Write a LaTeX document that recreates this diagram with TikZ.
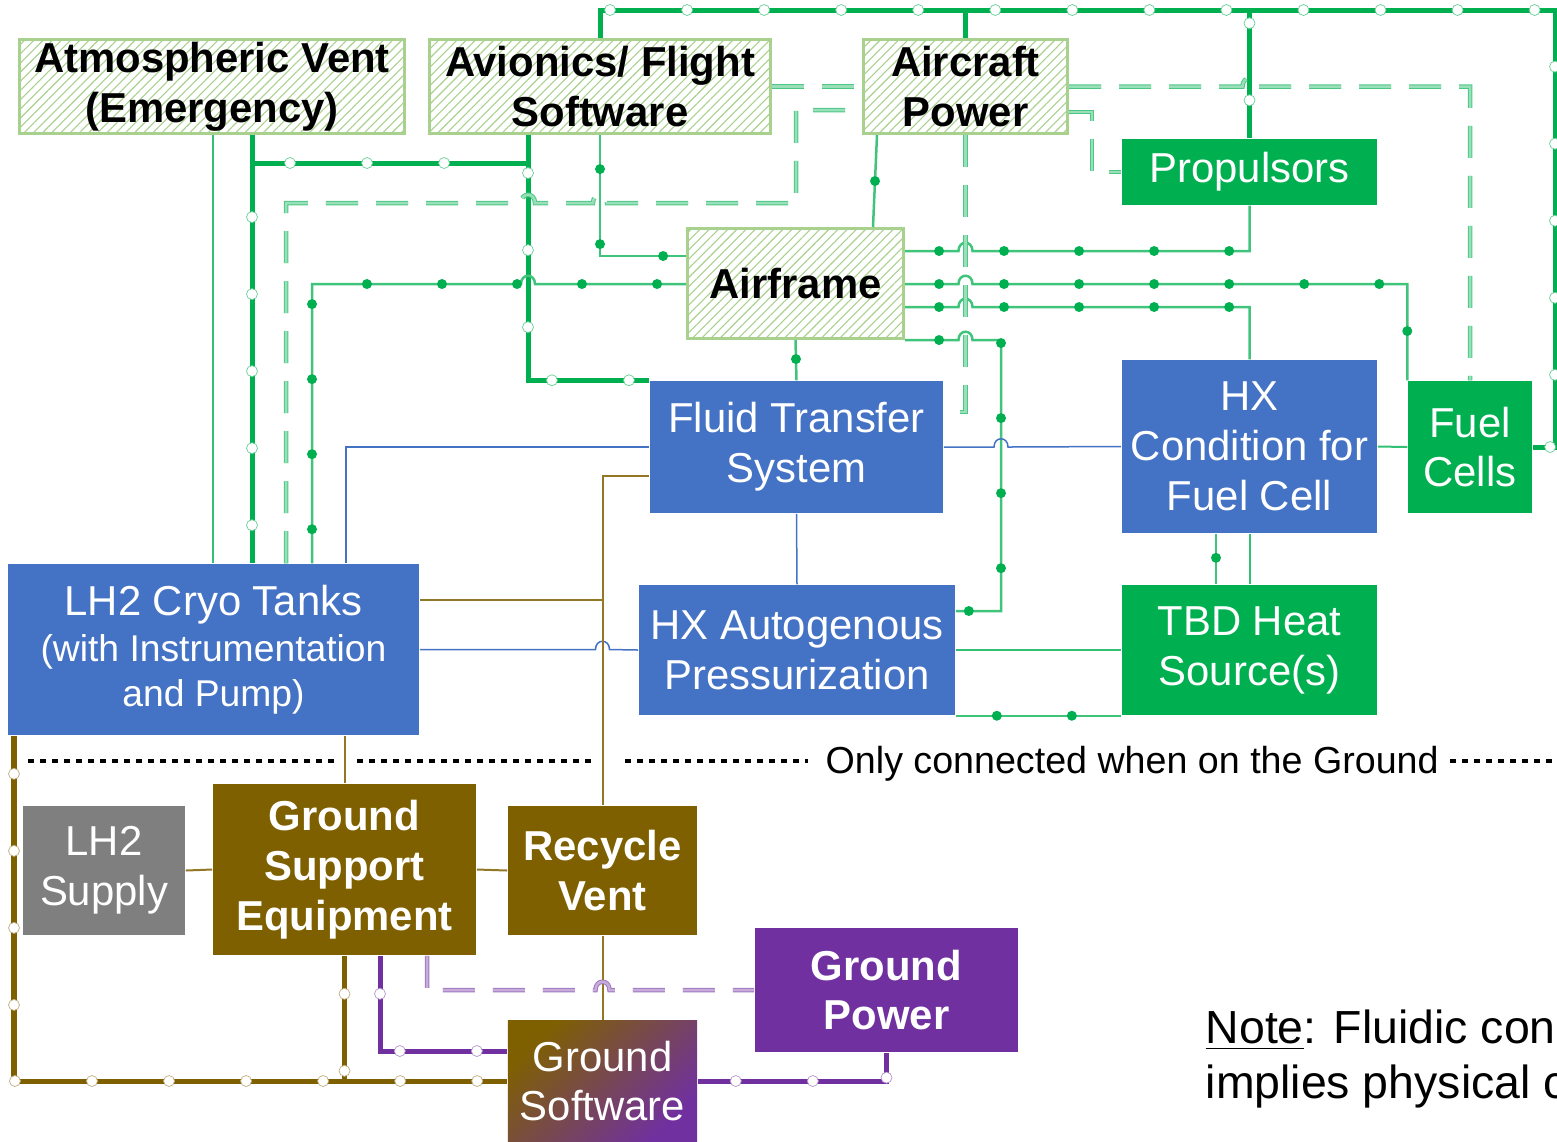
\documentclass[tikz,border=0pt]{standalone}
\usepackage{fontspec}
\setmainfont{Liberation Sans}
\usetikzlibrary{positioning,backgrounds,decorations.markings,patterns.meta}
\definecolor{cGreen}{RGB}{0,176,80}
\definecolor{cHatch}{RGB}{169,209,142}
\definecolor{cBlue}{RGB}{68,114,196}
\definecolor{cBrown}{RGB}{127,96,0}
\definecolor{cPurple}{RGB}{112,48,160}
\definecolor{cGray}{RGB}{127,127,127}
\newcommand{\boxfont}{\fontsize{11.9}{14.2}\selectfont}
\newcommand{\tankfont}{\fontsize{10.6}{12.6}\selectfont}
\newcommand{\lblfont}{\fontsize{10.7}{12.8}\selectfont}
\newcommand{\notefont}{\fontsize{13.2}{15.8}\selectfont}
% bump of a horizontal line over a vertical one at (x,y)
\newcommand{\hop}[2]{-- (#1-7,#2) .. controls +(0,-11) and +(0,-11) .. (#1+7,#2)}

\begin{document}
\begin{tikzpicture}[x=0.01cm, y=-0.01cm,
   every node/.style={inner sep=0pt, align=center},
   wh/.style 2 args={minimum width=#1*0.1mm, minimum height=#2*0.1mm},
   sys/.style={text=white, font=\boxfont},
   hatchbox/.style={draw=cHatch, line width=0.3mm, text=black, font=\boxfont\bfseries,
      preaction={fill=white}, pattern={Lines[angle=45,distance=0.65mm,line width=0.11mm]}, pattern color=cHatch},
   bluebox/.style={sys, fill=cBlue},
   greenbox/.style={sys, fill=cGreen},
   gsebox/.style={sys, fill=cBrown, font=\boxfont\bfseries},
   rings/.style={postaction={decorate, decoration={markings,
      mark=between positions 3.8mm and -1mm step 7.7mm with {\draw[fill=white, draw=#1, line width=0.2pt] (0,0) circle (0.55mm);}}}},
   dotmarks/.style={postaction={decorate, decoration={markings,
      mark=between positions #1 and -1.2mm step 7.5mm with {\fill[cGreen] (0,0) circle (0.5mm);}}}},
   pwr/.style={draw=cGreen, line width=0.5mm, rings=cGreen!60},
   dat/.style={draw=cGreen!75, line width=0.25mm, dotmarks=#1}, dat/.default=3.4mm,
   sig/.style={draw=cGreen!80, line width=0.2mm},
   ctl/.style={draw=cGreen!70, double=cGreen!40, double distance=0.25mm, line width=0.1mm, dash pattern=on 3.2mm off 1.8mm},
   flu/.style={draw=cBlue, line width=0.15mm},
   gsl/.style={draw=cBrown!85, line width=0.2mm},
   gpw/.style={draw=cBrown, line width=0.5mm, rings=cBrown!50},
   ppw/.style={draw=cPurple, line width=0.5mm, rings=cPurple!50},
   pct/.style={draw=cPurple!65, double=cPurple!40, double distance=0.25mm, line width=0.1mm, dash pattern=on 3.2mm off 1.8mm},
   gndsep/.style={draw=black, line width=0.45mm, dash pattern=on 0.6mm off 0.6mm}]
  \useasboundingbox (0,0) rectangle (1557,1141);
  \clip (0,0) rectangle (1557,1141);
  % aircraft side
  \node[hatchbox, wh={385}{94}] (Atm) at (212,86.5) {Atmospheric Vent\\(Emergency)};
  \node[hatchbox, wh={341}{94}] (Avi) at (600,86.5) {Avionics/ Flight\\Software};
  \node[hatchbox, wh={204}{94}] (AcP) at (965.5,86.5) {Aircraft\\Power};
  \node[greenbox, wh={255}{66}] (Prop) at (1249.5,172) {Propulsors};
  \node[hatchbox, wh={216}{110}] (Airf) at (795.5,283.5) {Airframe};
  \node[bluebox, wh={293}{132}] (FTS) at (796.5,447) {Fluid Transfer\\System};
  \node[bluebox, wh={255}{173}] (HXC) at (1249.5,446.5) {HX\\Condition for\\Fuel Cell};
  \node[greenbox, wh={124}{132}] (FC) at (1470,447) {Fuel\\Cells};
  \node[bluebox, wh={411}{171}] (Tank) at (213.5,649.5) {LH2 Cryo Tanks\\[-1pt]\tankfont (with Instrumentation\\[-1.5pt]\tankfont and Pump)};
  \node[bluebox, wh={316}{130}] (HXA) at (797,650) {HX Autogenous\\Pressurization};
  \node[greenbox, wh={255}{130}] (TBD) at (1249.5,650) {TBD Heat\\Source(s)};
  % ground side
  \node[sys, fill=cGray, wh={162}{129}] (Sup) at (104,870.5) {LH2\\Supply};
  \node[gsebox, wh={263}{171}] (GSE) at (344.5,869.5) {Ground\\Support\\Equipment};
  \node[gsebox, wh={189}{129}] (RV) at (602.5,870.5) {Recycle\\Vent};
  \node[gsebox, fill=cPurple, wh={263}{124}] (GP) at (886.5,990) {Ground\\Power};
  \node[sys, top color=cBrown, bottom color=cPurple, shading angle=45, wh={189}{120}] (GSW) at (602.5,1081) {Ground\\Software};
  \node[anchor=base west, font=\lblfont] (gnd) at (825,773) {Only connected when on the Ground};
  \node[anchor=base west, font=\notefont] (note1) at (1205,1043) {\underline{Note}: Fluidic connection};
  \node[anchor=base west, font=\notefont] (note2) at (1205,1098) {implies physical connection};
  \draw[gndsep] (28,761) -- (335,761);
  \draw[gndsep] (357,761) -- (597,761);
  \draw[gndsep] (625,761) -- (808,761);
  \draw[gndsep] (1450,761) -- (1557,761);
  \begin{scope}[on background layer]
    \clip (0,0) rectangle (1557,1141);
    \coordinate (busL) at (600,10);
    \coordinate (busR) at (1555,10);
    \coordinate (jA) at (252,163);
    \coordinate (jB) at (528,163);
    % power
    \draw[pwr] (Avi.north) -- (busL) -- (busR) |- (FC.east);
    \draw[pwr] (AcP.north) -- (AcP.north |- busL);
    \draw[pwr] (Prop.north) -- (Prop.north |- busL);
    \draw[pwr] (Tank.north -| jA) -- (Atm.south -| jA);
    \draw[pwr] (jA) -- (jB);
    \draw[pwr] (Avi.south -| jB) -- (jB) |- (FTS.north west);
    % plain links
    \draw[sig] (Atm.south -| 213,0) -- (Tank.north -| 213,0);
    \draw[sig] (HXA.east) -- (TBD.west);
    \draw[sig] (HXC.east) -- (FC.west);
    \draw[sig] (HXC.south) -- (TBD.north);
    % data
    \draw[dat] (Avi.south) |- (Airf.west |- 0,256);
    \draw[dat=4.6mm] (AcP.south -| 877,0) -- (Airf.north -| 873,0);
    \draw[dat] (Tank.north -| 312,0) -- (312,284) \hop{528}{284} -- (Airf.west |- 0,284);
    \draw[dat] (Airf.east |- 0,251) \hop{965.5}{251} -| (Prop.south);
    \draw[dat] (Airf.east |- 0,284) \hop{965.5}{284} -| (FC.north west);
    \draw[dat] (Airf.east |- 0,307) \hop{965.5}{307} -| (HXC.north);
    \draw[dat] (Airf.south east) \hop{965.5}{340} -- (1001,340) |- (HXA.east |- 0,611);
    \draw[dat=1.9mm] (Airf.south) -- (FTS.north);
    \draw[dat=4.1mm] (HXA.south east) -- (TBD.south west);
    \draw[dat=2.4mm] (HXC.south -| 1216,0) -- (TBD.north -| 1216,0);
    % control
    \draw[ctl] (Avi.east) -- (AcP.west);
    \draw[ctl] (AcP.east) \hop{1249.5}{86.5} -| (FC.north);
    \draw[ctl] (Tank.north -| 286,0) -- (286,203) \hop{528}{203} \hop{600}{203} -- (796,203) |- (AcP.west |- 0,110);
    \draw[ctl] (AcP.east |- 0,112) -- (1092,112) |- (Prop.west);
    \draw[ctl] (AcP.south) |- (FTS.east |- 0,412);
    % fluid
    \draw[flu] (Tank.north -| 346,0) |- (FTS.west);
    \draw[flu] (FTS.east) \hop{1001}{447} -- (HXC.west);
    \draw[flu] (FTS.south) -- (HXA.north);
    \draw[flu] (Tank.east) \hop{602.5}{649.5} -- (HXA.west);
    % ground support
    \draw[gsl] (FTS.west |- 0,476) -| (RV.north);
    \draw[gsl] (Tank.east |- 0,600) -- (RV.north |- 0,600);
    \draw[gsl] (Tank.south -| GSE.north) -- (GSE.north);
    \draw[gsl] (Sup.east) -- (GSE.west);
    \draw[gsl] (GSE.east) -- (RV.west);
    \draw[gsl] (RV.south) -- (GSW.north);
    \draw[gpw] (Tank.south -| 14,0) |- (GSW.west);
    \draw[gpw] (GSE.south) -- (GSE.south |- GSW.west);
    \draw[ppw] (GSE.south -| 380,0) |- (GSW.west |- 0,1051);
    \draw[ppw] (GSW.east) -| (GP.south);
    \draw[pct] (GSE.south -| 427,0) -- (427,990) \hop{602.5}{990} -- (GP.west);
  \end{scope}
\end{tikzpicture}
\end{document}
